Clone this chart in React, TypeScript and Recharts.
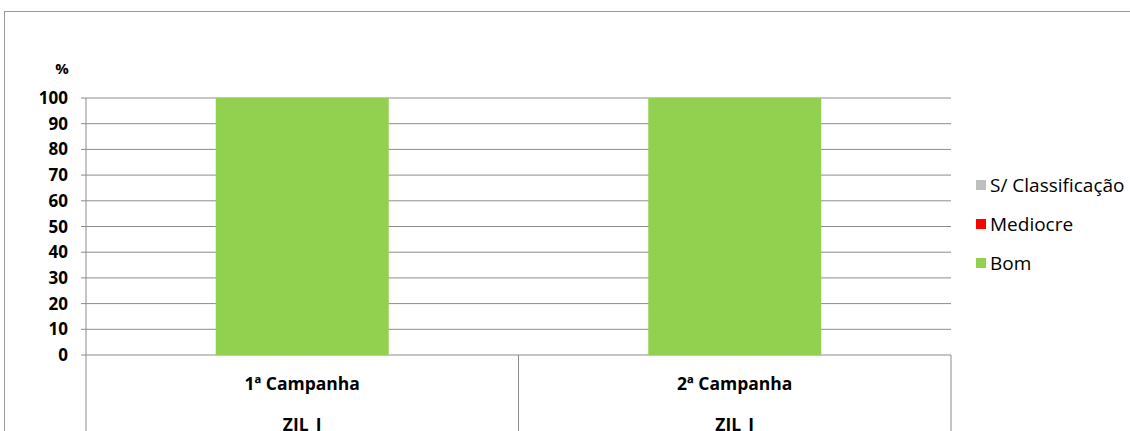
import { BarChart, Bar, XAxis, YAxis, CartesianGrid, Legend } from "recharts"

const campanhas = ["1ª Campanha", "2ª Campanha"]
const locais = ["ZIL_J", "ZIL_J"]
const bom = [100, 100]
const mediocre = [0, 0]
const semClassificacao = [0, 0]
const yTicks = [0, 10, 20, 30, 40, 50, 60, 70, 80, 90, 100]

const series = [
  { key: "bom", name: "Bom", color: "#92d050" },
  { key: "mediocre", name: "Mediocre", color: "#ff0000" },
  { key: "semClassificacao", name: "S/ Classificação", color: "#bfbfbf" },
]

const data = campanhas.map((c, i) => ({
  campanha: c,
  local: locais[i],
  bom: bom[i],
  mediocre: mediocre[i],
  semClassificacao: semClassificacao[i],
}))

const GRID = "#8c8c8c"
const FONT = "'Open Sans', sans-serif"

function CampanhaTick(props: any) {
  const { x, y, payload, index, width, visibleTicksCount } = props
  const half = (width || 865) / (visibleTicksCount || campanhas.length) / 2
  const top = y - 8
  return (
    <g>
      <line x1={x - half} x2={x - half} y1={top} y2={top + 90} stroke={GRID} strokeWidth={1} />
      {index === campanhas.length - 1 && (
        <line x1={x + half} x2={x + half} y1={top} y2={top + 90} stroke={GRID} strokeWidth={1} />
      )}
      <text x={x} y={top + 35} textAnchor="middle" fontFamily={FONT} fontWeight="bold" fontSize={17.5} fill="#000">
        {payload.value}
      </text>
      <text x={x} y={top + 76} textAnchor="middle" fontFamily={FONT} fontWeight="bold" fontSize={17.5} fill="#000">
        {locais[index]}
      </text>
    </g>
  )
}

function LegendBox() {
  const items = [...series].reverse()
  return (
    <div style={{ fontFamily: FONT, fontSize: 19, color: "#000" }}>
      {items.map((s) => (
        <div key={s.key} style={{ display: "flex", alignItems: "center", height: 39, whiteSpace: "nowrap" }}>
          <span style={{ display: "inline-block", width: 10, height: 10, background: s.color, marginRight: 4 }} />
          <span>{s.name}</span>
        </div>
      ))}
    </div>
  )
}

export default function App() {
  return (
    <div style={{ position: "absolute", left: 0, top: 0, width: 1130, height: 431, overflow: "hidden", background: "#fff" }}>
      <div
        style={{
          position: "absolute",
          left: 4,
          top: 11,
          width: 1200,
          height: 500,
          border: "1.5px solid #9a9a9a",
        }}
      />
      <BarChart
        width={1130}
        height={431}
        data={data}
        margin={{ top: 98, right: 19, bottom: 0, left: 0 }}
        barCategoryGap="30%"
        style={{ position: "absolute", left: 0, top: 0 }}
      >
        <CartesianGrid vertical={false} stroke={GRID} strokeWidth={1} />
        <XAxis
          dataKey="campanha"
          axisLine={false}
          tickLine={false}
          interval={0}
          height={76}
          tick={<CampanhaTick />}
        />
        <YAxis
          width={86}
          domain={[0, 100]}
          ticks={yTicks}
          interval={0}
          axisLine={{ stroke: GRID }}
          tickLine={{ stroke: GRID }}
          tickSize={5}
          tickMargin={13}
          tick={{ fontFamily: FONT, fontWeight: "bold", fontSize: 17, fill: "#000" }}
          label={{ value: "%", position: "top", dx: 19, offset: 24, fontFamily: FONT, fontWeight: "bold", fontSize: 15, fill: "#000" }}
        />
        <Legend
          layout="vertical"
          verticalAlign="top"
          align="right"
          content={<LegendBox />}
          wrapperStyle={{ position: "absolute", left: 976, top: 165, width: 160 }}
        />
        {series.map((s) => (
          <Bar key={s.key} dataKey={s.key} name={s.name} stackId="a" fill={s.color} isAnimationActive={false} />
        ))}
      </BarChart>
    </div>
  )
}
